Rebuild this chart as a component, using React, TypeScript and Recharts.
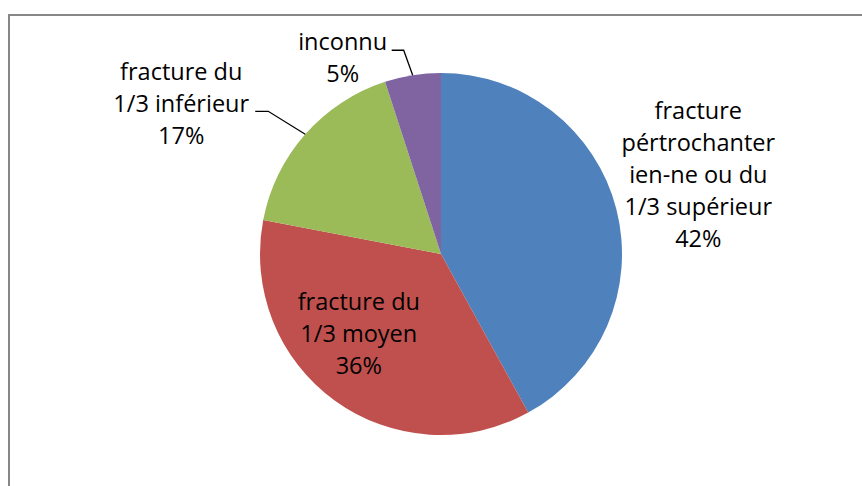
import { PieChart, Pie, Cell } from 'recharts';

// Office 2007 style pie: share of fracture sites
const categories = [
  'fracture pértrochanterien-ne ou du 1/3 supérieur',
  'fracture du 1/3 moyen',
  'fracture du 1/3 inférieur',
  'inconnu',
];
const shares = [42, 36, 17, 5];
const labelLines = [
  ['fracture', 'pértrochanter', 'ien-ne ou du', '1/3 supérieur'],
  ['fracture du', '1/3 moyen'],
  ['fracture du', '1/3 inférieur'],
  ['inconnu'],
];
const colors = ['#4F81BD', '#C0504D', '#9BBB59', '#8064A2'];

const data = categories.map((name, i) => ({ name, value: shares[i] }));

// where each label sits, relative to a point on the slice's mid-angle ray
const placement = [
  { k: 1, dx: 82, dy: -90, leader: null },
  { k: 0.5, dx: -29, dy: -17, leader: null },
  { k: 1, dx: -124, dy: -54, leader: [[-37, -23], [-50, -23]] },
  { k: 1, dx: -70, dy: -25, leader: [[-9, -25], [-21, -25]] },
];

const RADIAN = Math.PI / 180;
const LINE_H = 32;

const renderLabel = (props: any) => {
  const { cx, cy, midAngle, outerRadius, index, percent } = props;
  const p = placement[index];
  const r = outerRadius * p.k;
  const bx = cx + r * Math.cos(-midAngle * RADIAN);
  const by = cy + r * Math.sin(-midAngle * RADIAN);
  const lines = [...labelLines[index], `${Math.round(percent * 100)}%`];
  const x = bx + p.dx;
  const y = by + p.dy;
  let path = null;
  if (p.leader) {
    const d =
      `M${bx},${by}` +
      p.leader.map(([ox, oy]) => ` L${bx + ox},${by + oy}`).join('');
    path = <path d={d} stroke="#000" strokeWidth={1.3} fill="none" />;
  }
  return (
    <g key={`lbl-${index}`}>
      {path}
      <text
        x={x}
        y={y}
        textAnchor="middle"
        fill="#000"
        style={{ fontFamily: '"Open Sans", sans-serif', fontSize: 23.5 }}
      >
        {lines.map((t, i) => (
          <tspan key={i} x={x} y={y + i * LINE_H}>
            {t}
          </tspan>
        ))}
      </text>
    </g>
  );
};

export default function App() {
  return (
    <div
      style={{
        position: 'absolute',
        left: 0,
        top: 0,
        width: 862,
        height: 486,
        overflow: 'hidden',
        background: '#fff',
      }}
    >
      <div
        style={{
          position: 'absolute',
          left: 8,
          top: 14,
          width: 900,
          height: 520,
          border: '2px solid #878787',
        }}
      />
      <div style={{ position: 'absolute', left: 0, top: 0 }}>
        <PieChart width={862} height={486} margin={{ top: 0, right: 0, bottom: 0, left: 0 }}>
          <Pie
            data={data}
            dataKey="value"
            nameKey="name"
            cx={441}
            cy={254}
            outerRadius={181}
            startAngle={90}
            endAngle={-270}
            stroke="none"
            label={renderLabel}
            labelLine={false}
            isAnimationActive={false}
          >
            {data.map((d, i) => (
              <Cell key={d.name} fill={colors[i]} />
            ))}
          </Pie>
        </PieChart>
      </div>
    </div>
  );
}
